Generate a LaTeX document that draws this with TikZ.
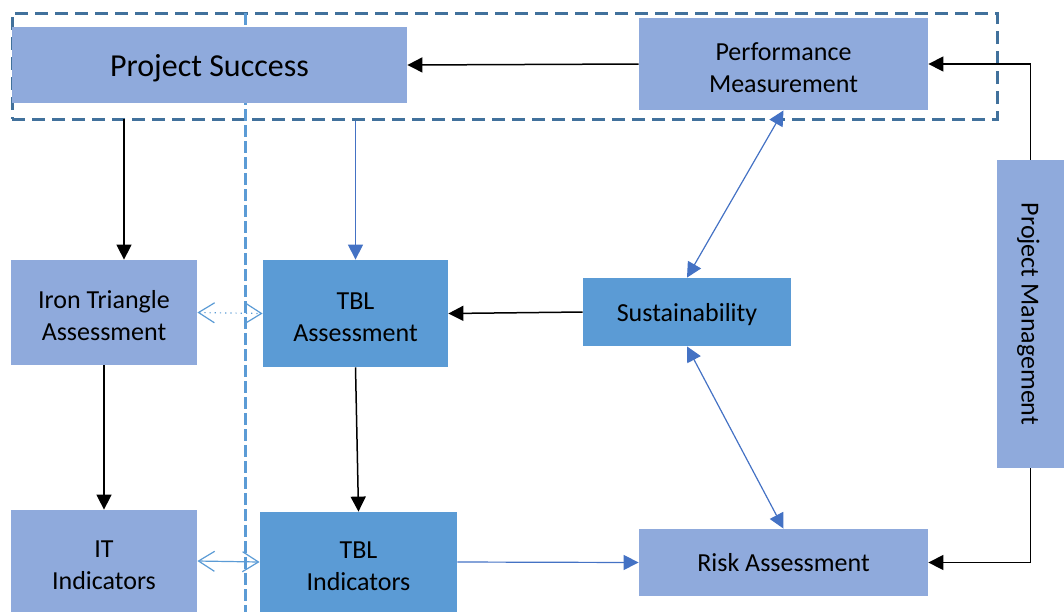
\documentclass[tikz,border=0pt]{standalone}
\usepackage{fontspec}
\setmainfont{Carlito}
\usepackage{tikz}
\usepackage{xcolor}
\usetikzlibrary{arrows.meta}

\definecolor{lightfill}{HTML}{8FAADC}
\definecolor{darkfill}{HTML}{5B9BD5}
\definecolor{arrowblue}{HTML}{4472C4}
\definecolor{frameblue}{HTML}{41719C}

\begin{document}
\begin{tikzpicture}[x=0.5pt,y=-0.5pt,
                    box/.style={rectangle, inner sep=0pt, align=center, text depth=0pt,
                                font=\fontsize{13}{16}\selectfont},
                    twoline/.style={text height=28pt},
                    light/.style={box, fill=lightfill},
                    dark/.style={box, fill=darkfill},
                    link/.style={draw=black, line width=0.75pt,
                                 -{Triangle[length=7.5pt,width=7.5pt]}},
                    bluelink/.style={draw=arrowblue, line width=0.6pt,
                                     -{Triangle[length=7.5pt,width=7.5pt]}},
                    bothlink/.style={bluelink, {Triangle[length=7.5pt,width=7.5pt]}-{Triangle[length=7.5pt,width=7.5pt]}},
                    openlink/.style={draw=darkfill, line width=0.6pt,
                                     {Straight Barb[length=8pt,width=10pt]}-{Straight Barb[length=8pt,width=10pt]}}]
                \useasboundingbox (0,0) rectangle (1064,612);
                % frame round the top row and the divider
                \node[draw=frameblue, line width=1.5pt, dash pattern=on 6.5pt off 3.5pt,
                      minimum width=492.5pt, minimum height=53pt, inner sep=0pt] (grp) at (504.5,66) {};
                \draw[darkfill, line width=1.5pt, dash pattern=on 6pt off 2pt] (245,13) coordinate (divtop) -- (245,612) coordinate (divbot);
                % boxes
                \node[light, minimum width=197.5pt, minimum height=38pt,
                      font=\fontsize{16}{19}\selectfont] (succ) at (209.5,65) {Project Success};
                \node[light, twoline, minimum width=144.5pt, minimum height=46pt] (perf) at (783.5,64) {Performance\\Measurement};
                \node[light, twoline, minimum width=93pt, minimum height=52.5pt] (iron) at (104,312.5) {Iron Triangle\\Assessment};
                \node[dark, twoline, minimum width=92.5pt, minimum height=53.5pt] (tbla) at (355.5,313.5) {TBL\\Assessment};
                \node[dark, minimum width=104pt, minimum height=34pt] (sust) at (687,312) {Sustainability};
                \node[light, twoline, minimum width=93pt, minimum height=51pt] (itind) at (104,561) {IT\\Indicators};
                \node[dark, twoline, minimum width=98.5pt, minimum height=50pt] (tbli) at (358.5,562) {TBL\\Indicators};
                \node[light, minimum width=144.5pt, minimum height=33.5pt] (risk) at (783.5,562.5) {Risk Assessment};
                \node[light, rotate=-90, minimum width=154pt, minimum height=33.5pt] (pm) at (1030.5,314) {Project Management};
                % connectors
                \coordinate (drop) at (124,119);
                \draw[link] (perf.west) -- (succ.east);
                \draw[link] (drop) -- (drop |- iron.north);
                \draw[link] (iron.south) -- (itind.north);
                \draw[link] (tbla.south) -- (tbli.north);
                \draw[link] (sust.west) -- (tbla.east);
                \draw[link] (pm.west) |- (perf.east);
                \draw[link] (pm.east) |- (risk.east);
                \draw[bluelink] (grp.south -| tbla.north) -- (tbla.north);
                \draw[bluelink] (tbli.east) -- (risk.west);
                \draw[bothlink] (perf.south) -- (sust.north);
                \draw[bothlink] (sust.south) -- (risk.north);
                \draw[openlink, dotted] (iron.east) -- (tbla.west);
                \draw[openlink] (itind.east) -- (tbli.west);
\end{tikzpicture}
\end{document}
